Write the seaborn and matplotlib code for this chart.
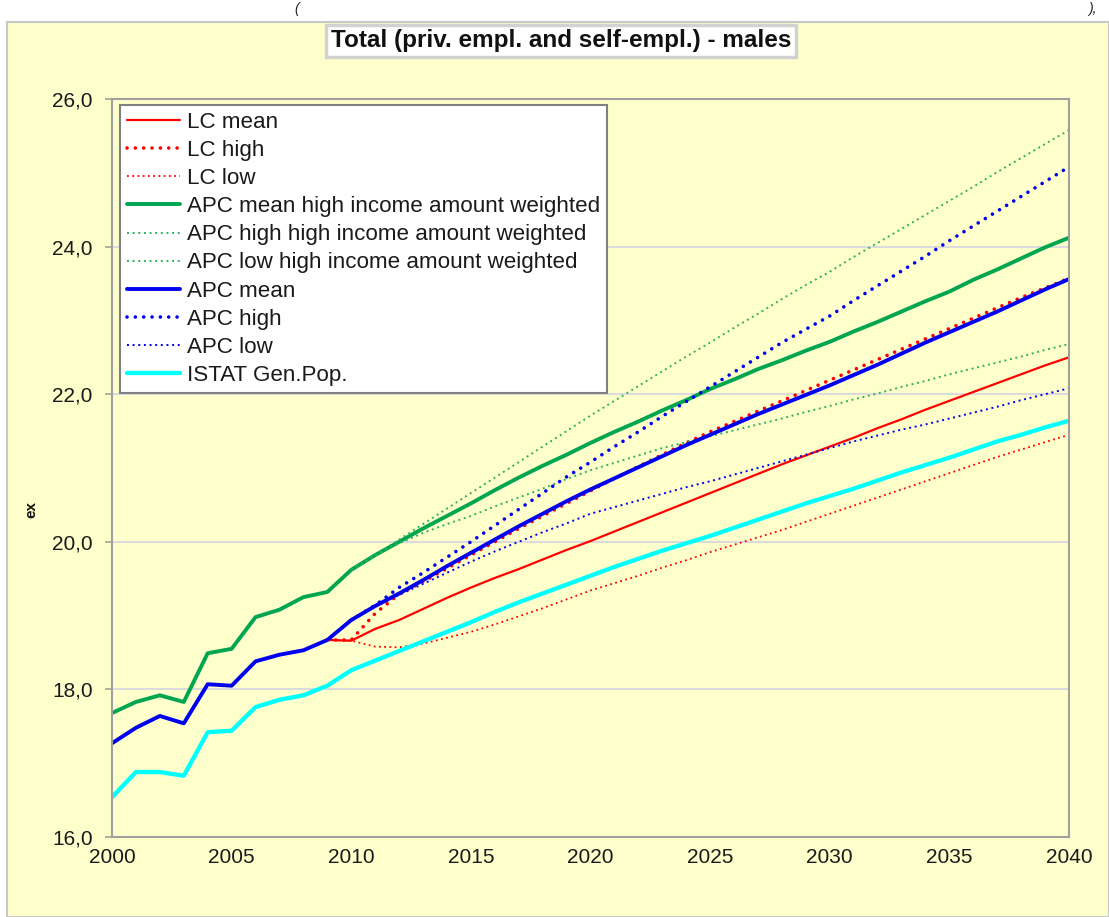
import matplotlib
matplotlib.use("Agg")
import matplotlib.pyplot as plt
from matplotlib.patches import Rectangle
from matplotlib.ticker import FuncFormatter, MultipleLocator
import seaborn as sns
import pandas as pd

# ---- data -------------------------------------------------------------
years_full = list(range(2000, 2041))
years_lc = list(range(2009, 2041))
years_apc = list(range(2010, 2041))

lc_mean = [18.67, 18.66, 18.82, 18.94, 19.09, 19.24, 19.38, 19.51, 19.63, 19.76, 19.89,
           20.01, 20.14, 20.27, 20.40, 20.53, 20.66, 20.79, 20.92, 21.05, 21.17,
           21.29, 21.41, 21.54, 21.66, 21.79, 21.91, 22.03, 22.15, 22.27, 22.39, 22.50]
lc_high = [18.67, 18.67, 19.03, 19.29, 19.46, 19.64, 19.82, 20.00, 20.18, 20.35, 20.52,
           20.69, 20.86, 21.02, 21.18, 21.34, 21.49, 21.63, 21.77, 21.91, 22.05,
           22.19, 22.33, 22.47, 22.61, 22.75, 22.89, 23.03, 23.17, 23.31, 23.44, 23.57]
lc_low = [18.67, 18.66, 18.58, 18.57, 18.62, 18.70, 18.78, 18.88, 18.99, 19.10, 19.22,
          19.34, 19.44, 19.54, 19.65, 19.75, 19.86, 19.96, 20.06, 20.16, 20.27,
          20.38, 20.49, 20.60, 20.71, 20.82, 20.93, 21.04, 21.15, 21.25, 21.35, 21.45]

apc_hi_mean = [17.68, 17.83, 17.92, 17.83, 18.49, 18.55, 18.98, 19.08, 19.25, 19.32,
               19.62, 19.82, 20.00, 20.18, 20.35, 20.52, 20.70, 20.87, 21.03, 21.18,
               21.34, 21.49, 21.63, 21.78, 21.92, 22.07, 22.20, 22.34, 22.46, 22.59,
               22.71, 22.85, 22.98, 23.12, 23.26, 23.39, 23.55, 23.69, 23.84, 23.99, 24.12]
apc_hi_high = [19.62, 19.82, 20.03, 20.24, 20.45, 20.66, 20.87, 21.08, 21.29, 21.50,
               21.71, 21.91, 22.11, 22.31, 22.51, 22.70, 22.90, 23.09, 23.29, 23.48,
               23.66, 23.86, 24.05, 24.24, 24.43, 24.62, 24.81, 25.01, 25.20, 25.39, 25.58]
apc_hi_low = [19.62, 19.81, 19.98, 20.12, 20.24, 20.35, 20.48, 20.60, 20.72, 20.85,
              20.97, 21.07, 21.17, 21.27, 21.35, 21.43, 21.51, 21.59, 21.67, 21.76,
              21.84, 21.93, 22.01, 22.10, 22.18, 22.27, 22.35, 22.43, 22.51, 22.60, 22.68]

apc_mean = [17.27, 17.48, 17.64, 17.54, 18.07, 18.05, 18.38, 18.47, 18.53, 18.67,
            18.94, 19.13, 19.30, 19.48, 19.67, 19.85, 20.03, 20.21, 20.38, 20.55,
            20.71, 20.86, 21.01, 21.16, 21.31, 21.45, 21.59, 21.73, 21.86, 21.99,
            22.12, 22.26, 22.40, 22.55, 22.70, 22.84, 22.98, 23.12, 23.27, 23.42, 23.56]
apc_high = [18.94, 19.14, 19.38, 19.58, 19.79, 20.00, 20.22, 20.44, 20.66, 20.88,
            21.08, 21.29, 21.49, 21.70, 21.90, 22.10, 22.30, 22.50, 22.70, 22.88,
            23.06, 23.27, 23.47, 23.67, 23.87, 24.08, 24.28, 24.48, 24.68, 24.88, 25.08]
apc_low = [18.94, 19.12, 19.28, 19.43, 19.58, 19.73, 19.87, 20.00, 20.13, 20.25,
           20.38, 20.47, 20.56, 20.65, 20.74, 20.82, 20.91, 21.00, 21.09, 21.18,
           21.27, 21.36, 21.44, 21.52, 21.59, 21.67, 21.75, 21.83, 21.92, 22.00, 22.08]

istat_gen_pop = [16.54, 16.88, 16.88, 16.83, 17.42, 17.44, 17.76, 17.86, 17.92, 18.05,
                 18.26, 18.39, 18.52, 18.65, 18.78, 18.91, 19.05, 19.18, 19.30, 19.42,
                 19.54, 19.66, 19.77, 19.88, 19.98, 20.08, 20.19, 20.30, 20.41, 20.52,
                 20.62, 20.72, 20.83, 20.94, 21.04, 21.14, 21.25, 21.36, 21.45, 21.55, 21.64]

x_ticks = [2000, 2005, 2010, 2015, 2020, 2025, 2030, 2035, 2040]
title_text = "Total (priv. empl. and self-empl.) - males"
y_label = "ex"

# ---- styling ----------------------------------------------------------
sns.set_theme(style="white")
plt.rcParams["font.family"] = ["Liberation Sans", "DejaVu Sans"]

BG = "#FFFFCC"
RED = "#FF0000"
GREEN = "#00A550"
GREEN_LT = "#2DB25E"
BLUE = "#0000F0"
CYAN = "#00FFFF"

thick_dots = (0, (0.01, 2.3))
thin_dots = (0, (1.0, 1.9))

series = [
    ("LC mean", years_lc, lc_mean, RED, 1.6, "-"),
    ("LC high", years_lc, lc_high, RED, 2.6, thick_dots),
    ("LC low", years_lc, lc_low, RED, 1.3, thin_dots),
    ("APC mean high income amount weighted", years_full, apc_hi_mean, GREEN, 2.8, "-"),
    ("APC high high income amount weighted", years_apc, apc_hi_high, GREEN_LT, 1.4, thin_dots),
    ("APC low high income amount weighted", years_apc, apc_hi_low, GREEN_LT, 1.4, thin_dots),
    ("APC mean", years_full, apc_mean, BLUE, 2.8, "-"),
    ("APC high", years_apc, apc_high, BLUE, 2.6, thick_dots),
    ("APC low", years_apc, apc_low, BLUE, 1.4, thin_dots),
    ("ISTAT Gen.Pop.", years_full, istat_gen_pop, CYAN, 3.1, "-"),
]

W, H = 1109, 917
fig = plt.figure(figsize=(W / 100, H / 100), dpi=100, facecolor="white")

# chart area panel behind everything
fig.patches.append(Rectangle((7 / W, 0), 1 - 7 / W, 1 - 22 / H, transform=fig.transFigure,
                             facecolor=BG, edgecolor="#C8C8C8", linewidth=1.5, zorder=-10))
fig.text(297 / W, 1 - 9 / H, "(", fontsize=10, style="italic", ha="center", va="center",
         color="#222222")
fig.text(1093 / W, 1 - 9 / H, "),", fontsize=10, style="italic", ha="center", va="center",
         color="#222222")

ax = fig.add_axes([112 / W, 1 - 837 / H, (1069 - 112) / W, (837 - 99) / H])
ax.set_zorder(2)
ax.set_facecolor(BG)

for name, xs, ys, color, lw, ls in series:
    df = pd.DataFrame({"year": xs, "ex": ys})
    capstyle = "round" if ls == thick_dots else "butt"
    sns.lineplot(data=df, x="year", y="ex", ax=ax, color=color, linewidth=lw,
                 linestyle=ls, label=name, dash_capstyle=capstyle,
                 solid_capstyle="round", legend=False)

ax.set_xlim(2000, 2040)
ax.set_ylim(16, 26)
ax.yaxis.set_major_locator(MultipleLocator(2))
ax.yaxis.set_major_formatter(FuncFormatter(lambda v, p: f"{v:.1f}".replace(".", ",")))
ax.set_xticks(x_ticks)
ax.set_xticklabels([str(t) for t in x_ticks])
ax.grid(axis="y", color="#D4D4E2", linewidth=1.2)
ax.grid(axis="x", visible=False)
ax.set_axisbelow(True)
for sp in ax.spines.values():
    sp.set_color("#A0A0A0")
    sp.set_linewidth(1.5)
ax.tick_params(axis="y", direction="out", length=5, width=1.2, color="#A0A0A0",
               labelsize=15, pad=9, labelcolor="#1A1A1A", left=True)
ax.tick_params(axis="x", length=0, labelsize=15, pad=8, labelcolor="#1A1A1A")
ax.set_xlabel("")
ax.set_ylabel("")

fig.text(31 / W, 1 - 510 / H, y_label, rotation=90, fontsize=11, fontweight="bold",
         ha="center", va="center", color="#111111")

fig.text(561 / W, 1 - 41 / H, title_text, fontsize=17.5, fontweight="bold",
         ha="center", va="center", color="#111111",
         bbox=dict(boxstyle="square,pad=0.2", facecolor="white",
                   edgecolor="#D2D2D2", linewidth=2.5))

leg = ax.legend(loc="upper left", bbox_to_anchor=(120 / W, 1 - 105 / H),
                bbox_transform=fig.transFigure, borderaxespad=0, fontsize=16.1,
                frameon=True, fancybox=False, handlelength=2.4, handletextpad=0.3,
                labelspacing=0.32, borderpad=0.3)
leg.get_frame().set_facecolor("white")
leg.get_frame().set_edgecolor("#808080")
leg.get_frame().set_linewidth(1.5)
leg.get_frame().set_alpha(1)
for t in leg.get_texts():
    t.set_color("#1A1A1A")

fig.savefig("out.png", dpi=100, facecolor="white")
